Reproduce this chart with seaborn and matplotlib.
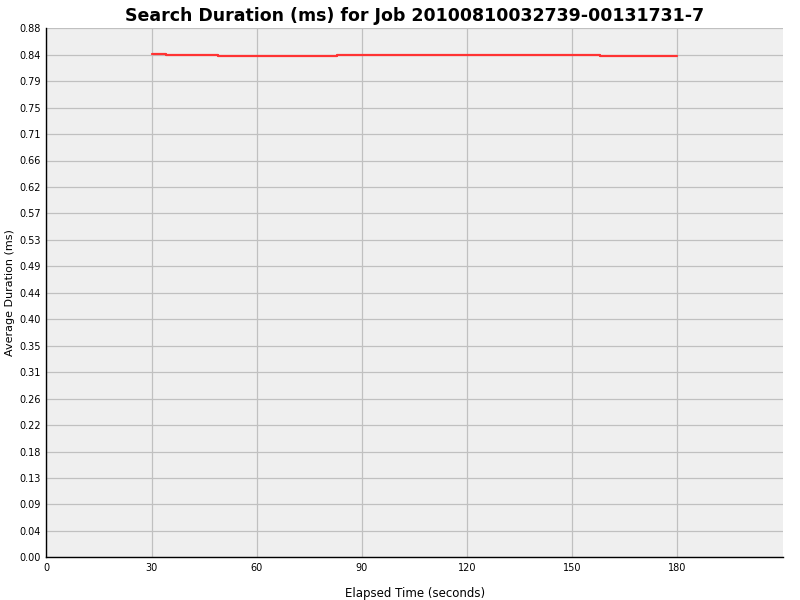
import pandas as pd
import seaborn as sns
import matplotlib
matplotlib.use('Agg')
import matplotlib.pyplot as plt
import numpy as np

#
# Values
#
elapsed = [30, 34, 49, 83, 158, 180]
avg_duration = [0.8387, 0.8372, 0.8359, 0.8372, 0.8359, 0.8359]
x_ticks = [0, 30, 60, 90, 120, 150, 180]
y_step = 0.0441

df = pd.DataFrame({'elapsed': elapsed, 'duration': avg_duration})

sns.set_style('white')
plt.rcParams['font.family'] = ['DejaVu Sans']
plt.rcParams['text.color'] = 'black'
plt.rcParams['axes.labelcolor'] = 'black'

fig = plt.figure(figsize=(8, 6), dpi=100)
ax = fig.add_axes([0.058, 0.071, 0.921, 0.883])
ax.set_facecolor('#efefef')

sns.lineplot(data=df, x='elapsed', y='duration', ax=ax, color='#ff3333',
             linewidth=1.6, drawstyle='steps-post', zorder=3)

ax.set_xlim(0, 210.2)
ax.set_ylim(0, 0.883)
ax.set_xticks(x_ticks)
y_ticks = np.arange(0, 21) * y_step
ax.set_yticks(y_ticks)
ax.set_yticklabels([f'{v:.2f}' for v in y_ticks])
ax.grid(True, color='#c0c0c0', linewidth=0.9)
ax.set_axisbelow(True)

for side in ['top', 'right']:
    ax.spines[side].set_visible(False)
for side in ['left', 'bottom']:
    ax.spines[side].set_color('black')
    ax.spines[side].set_linewidth(1.0)
ax.tick_params(axis='both', direction='inout', length=4, width=0.8,
               labelsize=7, colors='black', pad=2)

ax.set_xlabel('Elapsed Time (seconds)', fontsize=8.5, labelpad=10)
ax.set_ylabel('Average Duration (ms)', fontsize=8, labelpad=3)
ax.set_title('Search Duration (ms) for Job 20100810032739-00131731-7',
             fontsize=12.5, fontweight='bold', pad=5, color='black')

fig.savefig('out.png', dpi=100)
